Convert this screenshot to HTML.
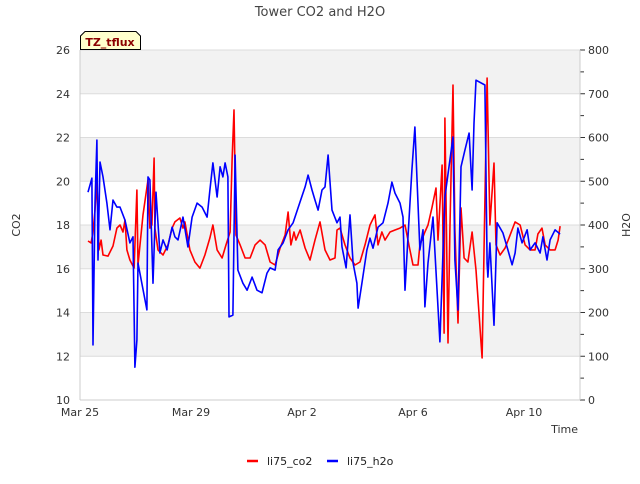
<!DOCTYPE html>
<html><head><meta charset="utf-8"><style>
body{margin:0;background:#fff;font-family:"DejaVu Sans","Liberation Sans",sans-serif;}
svg text{font-family:"DejaVu Sans","Liberation Sans",sans-serif;}
</style></head><body>
<svg id="chart" width="640" height="480" viewBox="0 0 640 480">
<text x="320" y="16" text-anchor="middle" font-size="13" fill="#444">Tower CO2 and H2O</text>
<g id="grid"></g>
<g id="axes"></g>
<g id="series"></g>
<g>
<path d="M80.5,49.5 L80.5,36 L85,31.5 L136,31.5 L140.5,36 L140.5,49.5 Z" fill="#ffffcc" stroke="#000" stroke-width="1"/>
<text x="110" y="46" text-anchor="middle" font-size="11" font-weight="bold" fill="#8b0000">TZ_tflux</text>
</g>
<text transform="translate(20,225) rotate(-90)" text-anchor="middle" font-size="11" fill="#333">CO2</text>
<text transform="translate(630,225) rotate(-90)" text-anchor="middle" font-size="11" fill="#333">H2O</text>
<text x="578" y="433" text-anchor="end" font-size="11" fill="#333">Time</text>
<g>
<line x1="247" y1="461" x2="258" y2="461" stroke="#f00" stroke-width="2.5"/>
<text x="267" y="465" font-size="11" fill="#222">li75_co2</text>
<line x1="327" y1="461" x2="338" y2="461" stroke="#00f" stroke-width="2.5"/>
<text x="347" y="465" font-size="11" fill="#222">li75_h2o</text>
</g>
</svg>
<script>
const xTickLabels=["Mar 25","Mar 29","Apr 2","Apr 6","Apr 10"];
const xTickDays=[0,4,8,12,16];
const leftTicks=[10,12,14,16,18,20,22,24,26];
const rightTicks=[0,100,200,300,400,500,600,700,800];
const co2Days=[0.29,0.40,0.47,0.54,0.61,0.68,0.76,0.83,1.01,1.19,1.33,1.44,1.55,1.62,1.69,1.80,1.95,2.05,2.09,2.27,2.45,2.52,2.59,2.67,2.70,2.81,2.99,3.17,3.32,3.42,3.60,3.71,3.78,3.96,4.14,4.32,4.50,4.68,4.79,4.94,5.12,5.26,5.41,5.48,5.55,5.62,5.77,5.95,6.13,6.31,6.49,6.67,6.85,7.03,7.21,7.39,7.50,7.60,7.71,7.78,7.93,8.11,8.29,8.47,8.65,8.83,9.01,9.19,9.26,9.37,9.55,9.73,9.91,10.09,10.27,10.45,10.63,10.74,10.88,10.99,11.17,11.35,11.53,11.71,11.89,12.0,12.18,12.25,12.43,12.54,12.68,12.83,12.90,13.05,13.12,13.15,13.26,13.33,13.44,13.51,13.62,13.73,13.84,13.98,14.13,14.27,14.49,14.67,14.77,14.92,14.99,15.14,15.32,15.50,15.68,15.86,16.04,16.22,16.40,16.50,16.65,16.76,16.94,17.12,17.23,17.30];
const co2Values=[17.27,17.18,17.68,18.69,20.06,16.86,17.31,16.63,16.58,17.04,17.86,18.0,17.68,18.23,16.86,16.4,16.03,19.6,16.17,18.46,20.06,17.86,18.0,21.06,17.86,16.86,16.63,17.09,17.86,18.14,18.32,17.86,18.14,16.86,16.31,16.03,16.63,17.41,18.0,16.86,16.49,17.09,17.68,20.97,23.26,17.54,17.09,16.49,16.49,17.09,17.31,17.09,16.31,16.17,16.95,17.54,18.59,17.09,17.68,17.31,17.77,16.95,16.4,17.31,18.14,16.86,16.4,16.49,17.77,17.86,17.09,16.49,16.17,16.31,17.09,18.0,18.46,17.09,17.68,17.31,17.68,17.77,17.86,18.0,16.86,16.17,16.17,17.09,17.68,18.0,18.78,19.69,17.31,20.74,13.06,22.89,12.61,17.77,24.4,17.77,13.52,18.78,16.49,16.31,17.68,15.94,11.92,24.72,18.0,20.83,17.09,16.63,16.95,17.54,18.14,18.0,17.09,16.86,16.86,17.59,17.86,17.09,16.86,16.86,17.31,17.95];
const h2oDays=[0.29,0.43,0.47,0.54,0.61,0.65,0.72,0.83,0.97,1.08,1.19,1.33,1.44,1.62,1.80,1.91,1.98,2.05,2.09,2.41,2.45,2.52,2.63,2.74,2.88,2.99,3.14,3.32,3.42,3.53,3.71,3.89,4.04,4.22,4.40,4.58,4.68,4.79,4.94,5.05,5.15,5.23,5.33,5.37,5.51,5.59,5.69,5.87,6.02,6.20,6.38,6.56,6.74,6.85,7.03,7.14,7.32,7.50,7.68,7.93,8.11,8.22,8.36,8.47,8.58,8.72,8.83,8.94,9.08,9.26,9.37,9.44,9.59,9.73,9.84,9.98,10.02,10.16,10.34,10.45,10.56,10.74,10.92,11.10,11.24,11.35,11.53,11.64,11.71,11.82,11.96,12.07,12.14,12.25,12.36,12.43,12.54,12.72,12.97,13.15,13.44,13.51,13.62,13.73,13.87,14.02,14.13,14.20,14.27,14.59,14.67,14.70,14.77,14.92,15.03,15.24,15.42,15.57,15.68,15.78,15.93,16.11,16.22,16.40,16.58,16.68,16.83,16.94,17.12,17.30];
const h2oValues=[475,507,126,450,594,320,544,510,450,389,457,441,441,411,359,373,75,137,313,206,510,503,267,475,336,366,343,395,373,366,418,350,418,450,441,418,480,542,464,533,510,542,510,190,194,560,297,267,251,281,251,245,290,302,297,343,359,389,405,453,487,514,480,457,434,480,487,560,434,405,418,350,302,423,313,267,210,267,343,370,347,395,405,450,498,473,450,418,251,373,526,624,510,343,389,213,313,418,133,464,601,320,206,533,571,610,480,633,731,720,313,281,359,171,405,382,343,309,336,393,359,389,343,359,336,373,320,366,389,379];

const L=80,R=580,T=50,B=400;
const xS=d=>L+d*27.75;
const yL=v=>B-(v-10)/16*(B-T);
const yR=v=>B-v/800*(B-T);
const NS="http://www.w3.org/2000/svg";
function mk(tag,attrs,parent){const e=document.createElementNS(NS,tag);for(const k in attrs)e.setAttribute(k,attrs[k]);parent.appendChild(e);return e;}
const grid=document.getElementById('grid'),axes=document.getElementById('axes'),series=document.getElementById('series');
for(let i=0;i<leftTicks.length-1;i++){
  if(i%2===1){const r=mk('rect',{x:L,y:yL(leftTicks[i+1]),width:R-L,height:yL(leftTicks[i])-yL(leftTicks[i+1]),fill:'#f2f2f2'},grid);
  
  }
}
leftTicks.forEach(v=>{
  const y=yL(v);
  const g=mk('line',{x1:L,x2:R,y1:y,y2:y,stroke:'#dcdcdc','stroke-width':1},grid);
  
  
  const t=mk('text',{x:L-10,y:y+4,'text-anchor':'end','font-size':11,fill:'#333'},axes);
  t.textContent=v;
  
  
});
rightTicks.forEach(v=>{
  const y=yR(v);
  const t=mk('text',{x:R+8,y:y+4,'font-size':11,fill:'#333'},axes);
  t.textContent=v;
  
  
  mk('line',{x1:R,x2:R+5,y1:y,y2:y,stroke:'#333'},axes);
  if(v<800){const ym=yR(v+50);mk('line',{x1:R,x2:R+4,y1:ym,y2:ym,stroke:'#333'},axes);}
});
mk('line',{x1:L,x2:L,y1:T,y2:B,stroke:'#ccc'},axes);
mk('line',{x1:R,x2:R,y1:T,y2:B,stroke:'#ccc'},axes);
mk('line',{x1:L,x2:R,y1:B,y2:B,stroke:'#ccc'},axes);
xTickDays.forEach((d,i)=>{
  const t=mk('text',{x:xS(d),y:B+16,'text-anchor':'middle','font-size':11,fill:'#333'},axes);
  t.textContent=xTickLabels[i];
  
  
});
function line(days,vals,ys,color,name){
  const p=mk('polyline',{points:days.map((d,i)=>xS(d).toFixed(1)+','+ys(vals[i]).toFixed(1)).join(' '),fill:'none',stroke:color,'stroke-width':1.6,'stroke-linejoin':'round'},series);
  
  
}
line(co2Days,co2Values,yL,'#f00','co2-line');
line(h2oDays,h2oValues,yR,'#00f','h2o-line');
</script>
</body></html>
